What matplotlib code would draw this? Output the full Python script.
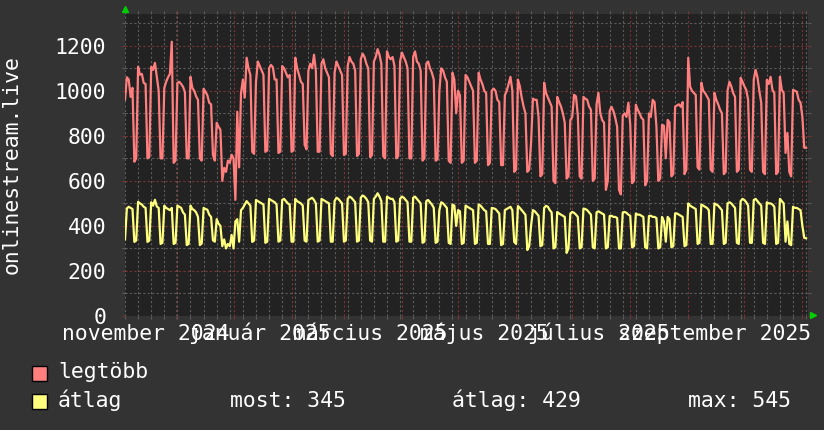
import matplotlib
matplotlib.use('Agg')
import matplotlib.pyplot as plt
import matplotlib.dates as mdates
from matplotlib.patches import Rectangle
from matplotlib.ticker import MultipleLocator, NullFormatter
import pandas as pd

START = "2024-11-04"

# daily values, one row per week (Mon..Sun)
legtobb = [
    960, 1060, 1050, 973, 1013, 685, 700,
    1107, 1071, 1075, 1035, 1030, 700, 707,
    1107, 1093, 1124, 1062, 1000, 700, 700,
    1013, 1040, 1060, 1075, 1218, 680, 690,
    1035, 1040, 1030, 1018, 995, 700, 700,
    1062, 1013, 1000, 975, 960, 700, 690,
    1009, 996, 980, 947, 940, 715, 690,
    858, 840, 827, 600, 658, 640, 690,
    680, 716, 700, 516, 907, 660, 990,
    1050, 970, 1147, 1100, 1070, 729, 720,
    1040, 1130, 1110, 1090, 1071, 729, 735,
    1100, 1115, 1105, 1050, 1050, 724, 730,
    1110, 1100, 1080, 1060, 1070, 729, 735,
    1147, 1100, 1071, 1040, 1030, 760, 740,
    1090, 1120, 1100, 1160, 1090, 729, 730,
    1120, 1140, 1100, 1080, 1060, 720, 710,
    1080, 1130, 1110, 1090, 1070, 715, 720,
    1110, 1150, 1130, 1120, 1090, 710, 720,
    1140, 1165, 1150, 1120, 1100, 705, 715,
    1130, 1150, 1185, 1160, 1120, 710, 700,
    1175, 1150, 1140, 1150, 1110, 700, 710,
    1130, 1170, 1150, 1130, 1100, 700, 700,
    1150, 1175, 1130, 1120, 1090, 690, 700,
    1120, 1130, 1100, 1080, 1050, 690, 695,
    1000, 1100, 1090, 1060, 1040, 690, 680,
    1080, 1050, 900, 1000, 980, 680, 690,
    1070, 1060, 1040, 1020, 1000, 680, 690,
    1080, 1050, 1030, 1000, 990, 670, 680,
    1000, 1010, 1000, 960, 950, 670, 670,
    980, 1000, 1030, 1062, 1000, 640, 650,
    1049, 1020, 970, 930, 900, 640, 650,
    769, 965, 960, 960, 884, 620, 630,
    1036, 990, 970, 950, 930, 600, 590,
    973, 950, 930, 900, 858, 610, 620,
    870, 884, 982, 975, 890, 620, 610,
    973, 965, 960, 930, 916, 600, 610,
    940, 991, 900, 870, 858, 560, 600,
    910, 929, 910, 880, 840, 560, 540,
    890, 900, 884, 947, 850, 590, 600,
    938, 916, 900, 880, 871, 580, 600,
    900, 884, 960, 950, 840, 600, 610,
    849, 845, 700, 871, 860, 620, 630,
    930, 935, 940, 929, 950, 630, 650,
    1147, 1018, 1000, 990, 982, 660, 650,
    1036, 1000, 990, 975, 960, 650, 640,
    991, 960, 940, 916, 900, 630, 640,
    1000, 1040, 1020, 990, 973, 640, 650,
    1058, 1040, 1020, 1004, 960, 650, 640,
    1049, 1093, 1060, 1000, 947, 640, 630,
    1049, 1030, 1062, 1004, 990, 630, 640,
    1062, 1004, 990, 724, 813, 640, 620,
    1004, 1000, 996, 960, 947, 884, 747,
    747,
]

atlag = [
    340, 478, 485, 480, 475, 329, 335,
    507, 500, 495, 485, 480, 329, 335,
    505, 490, 516, 486, 480, 320, 325,
    490, 480, 475, 470, 480, 320, 325,
    490, 485, 480, 460, 450, 315, 320,
    490, 475, 470, 460, 440, 315, 322,
    480, 475, 472, 450, 440, 336, 330,
    430, 410, 400, 310, 340, 300, 320,
    310, 360, 300, 420, 430, 330, 470,
    480, 495, 510, 500, 490, 329, 335,
    515, 510, 505, 500, 495, 325, 330,
    520, 515, 510, 505, 495, 330, 335,
    515, 520, 510, 500, 495, 330, 330,
    520, 510, 505, 500, 490, 335, 330,
    515, 520, 525, 515, 500, 330, 335,
    520, 515, 510, 505, 500, 330, 330,
    510, 525, 520, 510, 500, 330, 335,
    520, 530, 525, 515, 505, 330, 335,
    525, 535, 530, 520, 505, 335, 330,
    520, 530, 545, 530, 510, 330, 330,
    530, 525, 520, 520, 505, 330, 335,
    520, 530, 525, 515, 505, 330, 330,
    525, 530, 520, 510, 500, 325, 330,
    510, 515, 505, 495, 480, 325, 330,
    470, 505, 500, 490, 480, 325, 320,
    495, 490, 400, 470, 465, 320, 325,
    490, 485, 480, 475, 470, 320, 325,
    495, 490, 480, 470, 465, 320, 320,
    480, 478, 475, 465, 455, 315, 320,
    470, 475, 480, 485, 470, 329, 320,
    488, 480, 470, 460, 449, 293, 310,
    400, 470, 465, 455, 445, 310, 315,
    480, 489, 485, 470, 460, 300, 305,
    462, 455, 450, 445, 440, 280, 300,
    455, 462, 458, 450, 440, 300, 305,
    477, 475, 470, 460, 450, 305, 300,
    460, 465, 460, 455, 450, 300, 305,
    444, 445, 440, 440, 435, 300, 300,
    460, 462, 458, 450, 445, 305, 310,
    455, 450, 450, 445, 440, 305, 300,
    444, 445, 440, 440, 435, 300, 305,
    440, 420, 330, 440, 430, 305, 310,
    456, 455, 450, 445, 440, 310, 315,
    500, 490, 485, 480, 475, 320, 325,
    495, 490, 485, 480, 470, 320, 320,
    500, 495, 490, 480, 470, 320, 325,
    500, 505, 500, 490, 480, 325, 320,
    510, 520, 515, 505, 490, 325, 325,
    515, 520, 510, 500, 490, 325, 320,
    505, 500, 500, 495, 485, 320, 325,
    520, 510, 500, 330, 420, 320, 315,
    485, 480, 480, 475, 470, 400, 347,
    345,
]

month_labels = ["november 2024", "január 2025", "március 2025",
                "május 2025", "július 2025", "szeptember 2025"]
label_dates = ["2024-11-15", "2025-01-15", "2025-03-15",
               "2025-05-15", "2025-07-15", "2025-09-15"]

stat_most = 345
stat_atlag = 429
stat_max = 545

BACK = "#333333"
CANVAS = "#222222"
RED = "#ff7f7f"
YELLOW = "#ffff7f"
GRID_MINOR = "#5c5c5c"
GRID_MAJOR = "#7a3434"
FONT = "DejaVu Sans Mono"
FS = 15.4

W, H = 824, 430


def fx(px):
    return px / W


def fy(py):
    return 1 - py / H


def main():
    days = pd.date_range(START, periods=len(legtobb), freq="D")

    fig = plt.figure(figsize=(W / 100, H / 100), dpi=100, facecolor=BACK)
    ax = fig.add_axes([fx(125), fy(316), fx(808) - fx(125), fy(14) - fy(316)])
    ax.set_facecolor(CANVAS)

    ax.plot(days, legtobb, color=RED, lw=1.6, zorder=3)
    ax.plot(days, atlag, color=YELLOW, lw=1.6, zorder=3)

    ax.set_xlim(pd.Timestamp("2024-11-04"), pd.Timestamp("2025-11-04"))
    ax.set_ylim(0, 1341)

    # grid: weekly / 100 minor (grey), monthly / 200 major (red)
    ax.xaxis.set_major_locator(mdates.MonthLocator())
    ax.xaxis.set_minor_locator(mdates.WeekdayLocator(byweekday=mdates.MO))
    ax.xaxis.set_major_formatter(NullFormatter())
    ax.yaxis.set_major_locator(MultipleLocator(200))
    ax.yaxis.set_minor_locator(MultipleLocator(100))
    ax.set_axisbelow(True)
    ax.grid(which="minor", color=GRID_MINOR, linestyle=(0, (2, 2)), linewidth=0.8)
    ax.grid(which="major", color=GRID_MAJOR, linestyle=(0, (2, 2)), linewidth=0.8)
    ax.tick_params(which="both", direction="out", length=2.5, width=0.8,
                   top=True, right=True)
    ax.tick_params(which="minor", color=GRID_MINOR)
    ax.tick_params(which="major", color=GRID_MAJOR)
    ax.tick_params(axis="y", which="major", pad=11, labelcolor="white",
                   labelsize=FS)
    for lab in ax.get_yticklabels():
        lab.set_fontfamily(FONT)
    for s in ax.spines.values():
        s.set_visible(False)

    xt = ax.get_xaxis_transform()
    for d, lab in zip(label_dates, month_labels):
        ax.text(pd.Timestamp(d), -24 / 302, lab, transform=xt, ha="center",
                va="baseline", color="white", fontsize=FS, family=FONT,
                clip_on=False)

    # green axis arrows
    ax.plot([0], [1 + 5.5 / 302], marker="^", color="#00d000", ms=4.2,
            transform=ax.transAxes, clip_on=False, zorder=5)
    ax.plot([1 + 5 / 683], [1 / 302], marker=">", color="#00d000", ms=4.2,
            transform=ax.transAxes, clip_on=False, zorder=5)

    fig.text(fx(12), fy(165), "onlinestream.live", rotation=90, ha="center",
             va="center", color="white", fontsize=FS, family=FONT)

    # legend
    for top, col in ((366, RED), (394, YELLOW)):
        fig.add_artist(Rectangle((fx(32), fy(top + 15)), 15 / W, 15 / H,
                                 transform=fig.transFigure, facecolor=col,
                                 edgecolor="black", lw=1))
    fig.text(fx(58), fy(378), "legtöbb", va="baseline", color="white",
             fontsize=FS, family=FONT)
    fig.text(fx(58), fy(407), "átlag", va="baseline", color="white",
             fontsize=FS, family=FONT)
    fig.text(fx(230), fy(407), f"most: {stat_most}", va="baseline",
             color="white", fontsize=FS, family=FONT)
    fig.text(fx(452), fy(407), f"átlag: {stat_atlag}", va="baseline",
             color="white", fontsize=FS, family=FONT)
    fig.text(fx(688), fy(407), f"max: {stat_max}", va="baseline",
             color="white", fontsize=FS, family=FONT)

    fig.savefig("out.png", dpi=100, facecolor=BACK)
    plt.close(fig)


if __name__ == "__main__":
    main()
